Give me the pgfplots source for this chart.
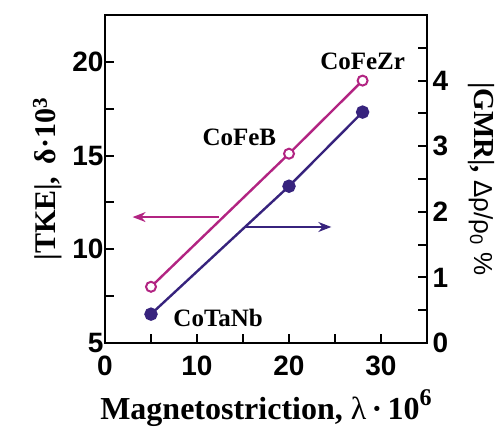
\documentclass[border=0pt]{standalone}
\usepackage{fontspec}
\setmainfont{Liberation Serif}
\newfontfamily\sansfont{Liberation Sans}
\usepackage{pgfplots}
\pgfplotsset{compat=1.18}
\usetikzlibrary{arrows.meta}

\definecolor{tkecol}{RGB}{178,36,130}
\definecolor{gmrcol}{RGB}{55,35,125}

\pgfplotsset{
  commonframe/.style={
    scale only axis, width=322pt, height=328pt,
    xmin=0, xmax=35,
    tick align=inside,
    major tick length=9pt, minor tick length=9pt,
    every tick/.style={line width=2pt, black},
    axis line style={line width=2.5pt, black},
    /pgf/number format/assume math mode=true,
    ticklabel style={font=\sansfont\bfseries\fontsize{28}{28}\selectfont},
    label style={font=\bfseries\fontsize{29}{30}\selectfont},
  }
}

\begin{document}
\begin{tikzpicture}
% |TKE| against magnetostriction (left scale)
\begin{axis}[
  commonframe,
  ymin=5, ymax=22.5,
  xtick={0,10,20,30}, minor xtick={5,15,25},
  ytick={5,10,15,20}, minor ytick={7.5,12.5,17.5},
  xtick pos=bottom, ytick pos=left,
  xticklabel style={yshift=-9pt},
  yticklabel style={xshift=2pt},
  xlabel={Magnetostriction, \mdseries λ\,\textbf{·\,10{\raisebox{0.45em}{\fontsize{24}{24}\selectfont 6}}}},
  ylabel={|TKE|, \,δ·10\textsuperscript{3}},
  xlabel style={yshift=-7pt, font=\bfseries\fontsize{32}{32}\selectfont},
  ylabel style={yshift=3pt, font=\bfseries\fontsize{30}{30}\selectfont},
]
\coordinate (bl) at (rel axis cs:0,0);
\addplot[tkecol, line width=2.4pt, mark=*, mark size=5pt,
         mark options={fill=white, line width=2pt}]
  coordinates {(5,8.0) (20,15.1) (28,19.0)};
\draw[tkecol, line width=1.6pt, -{Stealth[length=13pt,width=10pt]}]
  (axis cs:12.4,11.72) -- (axis cs:3.0,11.72);
\draw[gmrcol, line width=1.6pt, -{Stealth[length=13pt,width=10pt]}]
  (axis cs:15.1,11.19) -- (axis cs:24.6,11.19);
\node[font=\bfseries\fontsize{25}{25}\selectfont] at (axis cs:28,20.05) {CoFeZr};
\node[font=\bfseries\fontsize{25}{25}\selectfont] at (axis cs:14.6,15.95) {CoFeB};
\node[font=\bfseries\fontsize{25}{25}\selectfont] at (axis cs:12.3,6.35) {CoTaNb};
\end{axis}

% |GMR| against magnetostriction (right scale)
\begin{axis}[
  commonframe,
  ymin=0, ymax=5,
  axis x line=none,
  axis y line*=right,
  ytick={0,1,2,3,4}, minor ytick={0.5,1.5,2.5,3.5,4.5},
  ytick pos=right, yticklabel pos=right,
  yticklabel style={anchor=west, xshift=2pt},
  ylabel={|GMR|, {\sansfont\mdseries\fontsize{26}{26}\selectfont Δρ/ρ\textsubscript{0} \%}},
  ylabel style={rotate=180, yshift=13pt},
]
\addplot[gmrcol, line width=2.4pt, mark=*, mark size=5.5pt]
  coordinates {(5,0.44) (20,2.39) (28,3.52)};
\end{axis}

\pgfresetboundingbox
\path (bl) ++(-105pt,-83pt) rectangle ++(503pt,426pt);
\end{tikzpicture}
\end{document}
